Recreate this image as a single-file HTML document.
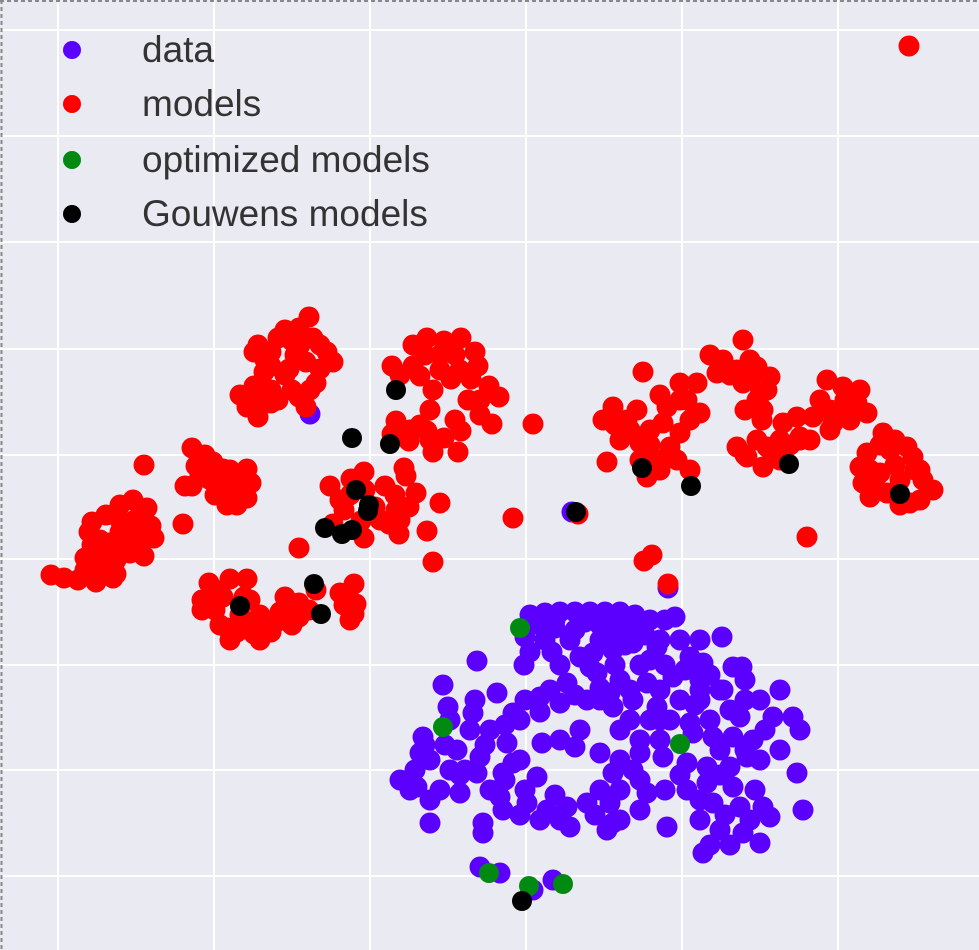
<!DOCTYPE html>
<html><head><meta charset="utf-8"><style>
html,body{margin:0;padding:0;background:#fff}
#wrap{position:relative;width:979px;height:950px;background:#eaeaf2;overflow:hidden}
svg{position:absolute;left:0;top:0}
</style></head><body>
<div id="wrap">
<svg id="chart" width="979" height="950">
<g id="grid"></g>
<g id="marks"></g>
<g id="legend"></g>
<line x1="1.5" y1="0" x2="1.5" y2="950" stroke="#888" stroke-dasharray="4,3" stroke-width="2"/>
<line x1="0" y1="1" x2="979" y2="1" stroke="#888" stroke-dasharray="4,3" stroke-width="2"/>
</svg>
</div>
<script>
const xTicks = [58, 214, 370, 526, 682, 838];
const yTicks = [30, 136, 242, 349, 455, 559, 665, 770, 876];
const legendLabels = ["data", "models", "optimized models", "Gouwens models"];
const dataPts = [[530,615],[545,613],[560,612],[575,612],[590,612],[605,612],[620,612],[635,615],[650,620],[665,620],[540,625],[555,628],[575,630],[600,625],[625,630],[645,635],[660,640],[525,637],[675,617],[722,637],[552,652],[524,665],[477,661],[580,657],[593,653],[613,650],[633,643],[657,647],[680,640],[690,657],[703,663],[733,667],[742,667],[723,690],[673,677],[647,683],[620,680],[597,673],[567,683],[540,697],[560,703],[587,700],[610,693],[613,707],[633,700],[657,707],[620,730],[580,730],[575,747],[542,743],[600,753],[443,685],[448,707],[497,693],[473,713],[513,713],[490,730],[423,737],[420,753],[457,750],[480,757],[507,743],[513,763],[477,773],[503,773],[520,760],[400,780],[417,787],[440,790],[460,793],[537,777],[500,797],[503,810],[527,803],[547,810],[567,807],[587,803],[570,827],[430,823],[483,823],[483,833],[540,820],[693,733],[660,740],[640,753],[663,757],[713,737],[733,737],[753,740],[747,757],[730,767],[707,767],[687,763],[613,773],[633,770],[620,790],[647,793],[610,803],[613,823],[607,830],[620,820],[667,827],[687,790],[707,783],[733,787],[713,803],[700,820],[720,830],[740,807],[743,833],[760,843],[703,853],[763,807],[770,817],[797,773],[803,810],[780,690],[773,717],[793,717],[800,730],[780,750],[730,710],[740,717],[720,690],[700,700],[690,723],[480,867],[500,873],[533,890],[553,880],[310,414],[572,512],[668,588],[530,652],[650,660],[700,680],[560,740],[680,700],[760,760],[520,720],[450,770],[545,640],[610,640],[700,640],[660,720],[745,700],
[555,620],[585,622],[615,622],[640,625],[570,640],[600,640],[625,645],[560,665],[590,667],[615,665],[640,665],[665,665],[685,670],[710,675],[700,690],[660,690],[630,690],[600,688],[575,695],[550,690],[525,700],[540,712],[505,725],[470,730],[445,745],[430,760],[465,770],[490,790],[525,790],[555,795],[600,790],[630,720],[650,720],[670,720],[710,720],[720,750],[745,750],[765,730],[680,775],[665,790],[700,800],[725,815],[750,820],[755,790],[720,775],[640,810],[595,815],[560,820],[520,815],[505,780],[485,745],[415,770],[410,790],[430,800],[460,775],[640,780],[600,700],[745,680],[760,700],[695,705],[620,760],[640,740],[710,845],[730,845],[450,720],[475,700],[425,745]];
const modelPts = [[309,317],[299,328],[278,338],[258,345],[254,352],[271,352],[292,341],[313,338],[327,352],[333,362],[320,369],[306,362],[289,369],[271,366],[264,372],[254,386],[271,390],[292,390],[316,383],[299,397],[278,400],[247,407],[258,417],[271,403],[306,407],[51,575],[64,578],[78,580],[96,582],[113,578],[85,570],[85,558],[92,545],[89,532],[92,522],[106,515],[120,505],[133,500],[147,508],[151,526],[154,538],[144,556],[130,553],[116,560],[109,543],[120,532],[130,526],[102,572],[116,574],[144,465],[192,448],[196,466],[192,486],[213,462],[223,469],[237,476],[247,469],[251,483],[237,493],[223,486],[227,505],[237,505],[247,498],[209,479],[185,486],[183,524],[209,583],[230,579],[247,579],[202,600],[202,610],[223,597],[244,597],[227,628],[237,632],[251,628],[264,625],[278,621],[292,625],[271,632],[254,634],[285,597],[299,603],[299,617],[309,610],[316,590],[340,593],[354,584],[356,604],[354,614],[344,605],[299,548],[330,486],[351,479],[364,472],[385,486],[406,476],[416,493],[409,507],[396,510],[389,524],[399,534],[375,507],[361,521],[344,510],[333,524],[364,538],[440,503],[427,531],[433,562],[513,518],[458,452],[533,424],[404,468],[413,345],[427,338],[444,341],[461,338],[475,352],[478,366],[471,379],[489,386],[499,397],[492,424],[468,400],[451,379],[433,390],[420,376],[413,366],[430,410],[392,366],[396,421],[392,434],[409,441],[427,431],[444,438],[461,431],[433,452],[743,340],[723,360],[717,373],[737,370],[757,367],[770,377],[767,390],[757,400],[763,410],[762,420],[743,383],[827,380],[843,387],[860,390],[857,403],[867,413],[847,417],[833,423],[813,417],[797,417],[783,423],[800,437],[810,440],[830,430],[737,447],[757,440],[767,447],[780,460],[763,467],[747,457],[643,372],[680,383],[697,383],[687,400],[700,413],[667,407],[613,407],[637,410],[603,420],[627,420],[663,423],[680,433],[670,447],[620,440],[640,443],[657,460],[647,477],[677,460],[690,470],[607,462],[883,433],[867,453],[860,467],[863,483],[870,497],[890,450],[907,447],[913,457],[920,470],[923,480],[933,490],[910,503],[887,493],[880,473],[807,537],[652,555],[644,561],[668,584],[578,514],[909,46],
[285,330],[300,345],[265,360],[285,375],[310,390],[260,400],[240,395],[295,355],[320,345],[100,540],[110,555],[125,545],[140,540],[135,520],[100,560],[90,565],[120,520],[140,525],[205,455],[215,480],[230,470],[240,490],[215,495],[200,475],[215,590],[215,610],[240,615],[260,615],[280,612],[230,640],[260,640],[220,625],[250,600],[290,605],[345,600],[350,620],[350,495],[395,495],[380,520],[365,490],[400,520],[340,500],[425,355],[440,355],[455,355],[440,370],[460,370],[480,400],[455,420],[420,425],[410,430],[430,440],[480,415],[400,375],[730,375],[750,380],[750,360],[760,395],[745,410],[680,400],[660,395],[690,420],[650,430],[630,430],[615,425],[650,445],[660,470],[640,460],[820,400],[830,410],[845,400],[850,420],[780,440],[790,445],[800,440],[745,455],[775,450],[870,470],[875,485],[895,465],[900,480],[915,470],[880,445],[895,440],[900,505],[920,500],[725,370],[710,355]];
const optimizedPts = [[520,628],[443,727],[680,744],[489,873],[529,886],[563,884]];
const gouwensPts = [[396,390],[352,438],[390,444],[356,490],[369,505],[368,511],[325,528],[342,534],[352,530],[314,584],[240,606],[321,614],[642,468],[691,486],[789,464],[900,494],[576,512],[522,901]];

const NS = "http://www.w3.org/2000/svg";
const xScale = v => 0 + v * 1;
const yScale = v => 0 + v * 1;
const grid = document.getElementById('grid');
xTicks.forEach(t => {
  const l = document.createElementNS(NS, 'line');
  l.setAttribute('x1', xScale(t)); l.setAttribute('x2', xScale(t));
  l.setAttribute('y1', 0); l.setAttribute('y2', 950);
  l.setAttribute('stroke', '#fff'); l.setAttribute('stroke-width', '2');
  
  
  grid.appendChild(l);
});
yTicks.forEach(t => {
  const l = document.createElementNS(NS, 'line');
  l.setAttribute('y1', yScale(t)); l.setAttribute('y2', yScale(t));
  l.setAttribute('x1', 0); l.setAttribute('x2', 979);
  l.setAttribute('stroke', '#fff'); l.setAttribute('stroke-width', '2');
  
  
  grid.appendChild(l);
});
const marks = document.getElementById('marks');
function drawSeries(pts, color, name, r) {
  pts.forEach(p => {
    const c = document.createElementNS(NS, 'circle');
    c.setAttribute('cx', xScale(p[0]));
    c.setAttribute('cy', yScale(p[1]));
    c.setAttribute('r', r);
    c.setAttribute('fill', color);
    
    
    marks.appendChild(c);
  });
}
drawSeries(dataPts, '#5b00ff', 'data-point', 10.5);
drawSeries(modelPts, '#ff0000', 'model-point', 10.5);
drawSeries(optimizedPts, '#008a12', 'optimized-model-point', 10);
drawSeries(gouwensPts, '#000000', 'gouwens-model-point', 10);

const legend = document.getElementById('legend');
const legendColors = ['#5b00ff', '#ff0000', '#008a12', '#000000'];
const legendY = [50, 104, 160, 214];
legendLabels.forEach((lab, i) => {
  const g = document.createElementNS(NS, 'g');
  
  
  const c = document.createElementNS(NS, 'circle');
  c.setAttribute('cx', 72); c.setAttribute('cy', legendY[i]); c.setAttribute('r', 9);
  c.setAttribute('fill', legendColors[i]);
  
  
  const t = document.createElementNS(NS, 'text');
  t.setAttribute('x', 142); t.setAttribute('y', legendY[i] + 12);
  t.setAttribute('font-family', 'Liberation Sans, sans-serif');
  t.setAttribute('font-size', '37');
  t.setAttribute('fill', '#333');
  
  
  t.textContent = lab;
  g.appendChild(c); g.appendChild(t);
  legend.appendChild(g);
});
</script>
</body></html>
